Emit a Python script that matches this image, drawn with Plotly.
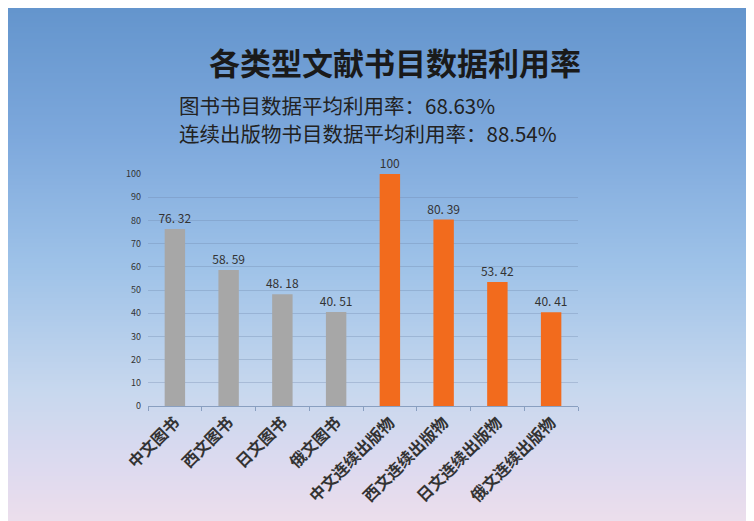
import base64
import struct
import zlib

import plotly.graph_objects as go

categories = ["中文图书", "西文图书", "日文图书", "俄文图书",
              "中文连续出版物", "西文连续出版物", "日文连续出版物", "俄文连续出版物"]
values = [76.32, 58.59, 48.18, 40.51, 100, 80.39, 53.42, 40.41]
groups = ["图书", "图书", "图书", "图书", "连续出版物", "连续出版物", "连续出版物", "连续出版物"]
y_ticks = [0, 10, 20, 30, 40, 50, 60, 70, 80, 90, 100]

title_text = "各类型文献书目数据利用率"
note_lines = ["图书书目数据平均利用率：68.63%", "连续出版物书目数据平均利用率：88.54%"]

GROUP_COLORS = {"图书": "#a7a7a7", "连续出版物": "#f26b1d"}
FONT = "Noto Sans CJK SC"

# page is offset by the 8px body margin; work in figure coordinates
OFF = 8
W, H = 754 - OFF, 521 - OFF
L, R, T, B = 148 - OFF, 578 - OFF, 174 - OFF, 406 - OFF  # plot area pixels


def label(v):
    s = f"{v:.2f}".rstrip("0").rstrip(".") if v == int(v) else f"{v:.2f}"
    return s.replace(".", ". ")


def gradient_png(stops, n=256):
    rows = b""
    for i in range(n):
        t = i / (n - 1)
        for j in range(len(stops) - 1):
            t0, c0 = stops[j]
            t1, c1 = stops[j + 1]
            if t0 <= t <= t1:
                f = 0 if t1 == t0 else (t - t0) / (t1 - t0)
                c = [round(c0[k] + (c1[k] - c0[k]) * f) for k in range(3)]
                break
        rows += b"\x00" + bytes(c)

    def chunk(tag, data):
        return struct.pack(">I", len(data)) + tag + data + struct.pack(">I", zlib.crc32(tag + data) & 0xffffffff)

    png = b"\x89PNG\r\n\x1a\n"
    png += chunk(b"IHDR", struct.pack(">IIBBBBB", 1, n, 8, 2, 0, 0, 0))
    png += chunk(b"IDAT", zlib.compress(rows))
    png += chunk(b"IEND", b"")
    return "data:image/png;base64," + base64.b64encode(png).decode()


bg = gradient_png([
    (0.0, (100, 149, 205)),
    (0.25, (125, 168, 220)),
    (0.5, (158, 194, 232)),
    (0.75, (200, 216, 238)),
    (0.9, (222, 218, 239)),
    (1.0, (236, 222, 236)),
])

pw, ph = R - L, B - T


def px_x(x):
    return (x - OFF - L) / pw


def px_y(y):
    return (B - (y - OFF)) / ph


fig = go.Figure()
fig.add_trace(go.Bar(
    x=categories,
    y=values,
    marker=dict(color=[GROUP_COLORS[g] for g in groups], line=dict(width=0)),
    text=[label(v) for v in values],
    textposition="outside",
    constraintext="none",
    textfont=dict(family=FONT, size=12, color="#333333"),
    cliponaxis=False,
    hoverinfo="x+y",
))

fig.update_layout(
    width=W, height=H,
    margin=dict(l=L, r=W - R, t=T, b=H - B),
    paper_bgcolor="white",
    plot_bgcolor="rgba(0,0,0,0)",
    bargap=0.62,
    showlegend=False,
    font=dict(family=FONT, color="#333333"),
    images=[dict(
        source=bg, xref="paper", yref="paper",
        x=-L / pw, y=(B) / ph, sizex=W / pw, sizey=H / ph,
        xanchor="left", yanchor="top", sizing="stretch", layer="below",
    )],
    annotations=[
        dict(text=f"<b>{title_text}</b>", xref="paper", yref="paper",
             x=px_x(395), y=px_y(62), xanchor="center", yanchor="middle",
             showarrow=False, font=dict(family=FONT, size=31, color="#1a1a1a")),
        dict(text=note_lines[0], xref="paper", yref="paper",
             x=px_x(177), y=px_y(105), xanchor="left", yanchor="middle",
             showarrow=False, font=dict(family=FONT, size=20.5, color="#222222")),
        dict(text=note_lines[1], xref="paper", yref="paper",
             x=px_x(177), y=px_y(133), xanchor="left", yanchor="middle",
             showarrow=False, font=dict(family=FONT, size=20.5, color="#222222")),
    ],
)

fig.update_yaxes(
    range=[0, 100],
    tickvals=y_ticks,
    showgrid=True, gridcolor="rgba(110,135,170,0.33)", gridwidth=1,
    zeroline=False, showline=False,
    tickfont=dict(family=FONT, size=9, color="#333333"),
    ticklabelstandoff=6,
    fixedrange=True,
)
fig.update_xaxes(
    showline=True, linecolor="rgba(120,145,180,0.8)", linewidth=1,
    ticks="outside", tickson="boundaries", ticklen=4, tickcolor="rgba(120,145,180,0.8)",
    tickangle=-45,
    tickfont=dict(family=FONT, size=16, color="#333333", weight="bold"),
    showgrid=False,
    fixedrange=True,
)

fig.write_html("out.html")
